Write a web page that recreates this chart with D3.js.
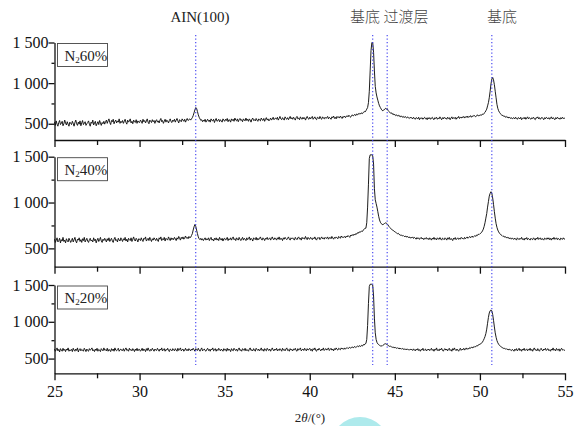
<!DOCTYPE html>
<html>
<head>
<meta charset="utf-8">
<script src="https://cdn.jsdelivr.net/npm/d3@7/dist/d3.min.js"></script>
<style>
body { margin: 0; background: #fff; }
text { font-family: "Liberation Serif", "Times New Roman", serif; }
</style>
</head>
<body>
<svg id="xrd-canvas" width="574" height="426"></svg>
<script>
// 2theta grid, 25..55 step 0.05
var twoTheta = d3.range(601).map(function(i) { return 25 + i / 20 })

var xTicks = [25, 30, 35, 40, 45, 50, 55]
var xMinorTicks = [27.5, 32.5, 37.5, 42.5, 47.5, 52.5]
var yTicks = [500, 1000, 1500]
var yMinorTicks = [750, 1250]

var panelNames = ['60%', '40%', '20%']
var peakLines = [33.3, 43.7, 44.55, 50.7]
var peakLabels = ['AIN(100)', '基底', '过渡层', '基底']
var peakLabelX = [33.55, 43.25, 45.65, 51.3]

// intensity, one row per degree (0.05 deg step)
var n2_60 = [
  520,480,535,495,470,515,540,490,505,530,475,500,545,510,485,525,495,470,520,505,
  490,530,505,470,515,545,500,480,520,495,535,475,510,540,490,505,525,480,500,515,
  535,495,470,520,505,545,485,510,530,475,500,525,490,540,510,480,515,500,530,495,
  525,545,505,535,560,515,490,540,525,555,500,530,545,510,535,520,560,505,530,515,
  540,505,530,555,515,495,545,520,535,560,510,530,500,545,525,515,550,505,535,520,
  515,545,530,505,555,525,540,510,535,560,520,500,545,530,515,550,525,540,505,535,
  550,520,535,510,545,565,525,540,505,530,555,520,545,535,510,540,560,525,515,545,
  530,555,520,545,565,535,510,550,540,525,560,545,530,555,520,545,565,540,550,560,
  545,560,575,600,635,670,700,690,650,610,580,560,540,550,525,545,530,555,520,540,
  555,530,545,520,560,540,535,555,515,545,565,530,540,555,525,550,535,520,560,545,
  530,555,540,565,525,550,545,520,560,540,555,530,570,545,535,560,525,550,565,540,
  550,525,560,545,535,570,540,555,530,560,545,520,555,570,540,550,535,565,545,530,
  560,545,535,570,550,540,565,530,555,575,545,560,535,550,570,545,560,580,550,565,
  570,555,580,545,565,590,560,550,575,560,545,585,565,555,575,550,570,590,560,575,
  555,580,565,545,575,590,560,570,550,585,565,555,580,560,575,545,570,590,565,555,
  580,560,575,590,555,570,585,560,550,580,575,560,590,565,555,585,570,560,580,565,
  575,590,560,580,570,555,585,575,595,565,580,560,590,575,585,570,595,580,565,590,
  580,595,575,590,600,585,605,590,580,600,610,595,605,615,600,620,610,625,615,630,
  620,635,625,640,650,645,660,680,700,760,900,1150,1400,1500,1500,1380,1150,960,880,830,
  790,750,720,700,680,665,660,670,675,690,680,688,665,650,640,632,635,618,625,608,
  615,600,610,595,605,590,600,585,595,580,590,575,590,580,570,585,575,565,580,570,
  575,560,580,565,555,575,570,560,580,550,570,565,575,555,570,580,560,570,550,575,
  560,575,555,570,580,560,550,575,565,580,555,570,560,585,565,550,575,560,580,565,
  570,555,580,565,575,550,570,585,560,575,565,580,555,575,570,590,565,580,570,585,
  575,590,570,585,580,595,575,590,585,600,580,595,590,605,595,585,600,610,595,605,
  600,610,605,620,615,630,640,660,680,720,760,820,900,990,1050,1070,1040,980,900,820,
  740,690,660,640,625,615,600,605,590,595,580,590,575,585,570,580,565,575,560,570,
  575,560,580,565,555,575,570,560,580,550,565,575,560,580,555,570,585,560,575,565,
  555,575,565,580,560,550,575,570,585,560,575,555,570,580,565,550,575,560,580,570,
  560,575,555,570,585,560,575,565,550,575,560,580,565,570,555,575,560,580,565,570,
  565]

var n2_40 = [
  600,565,590,615,570,585,610,560,595,580,620,575,590,560,605,585,570,610,590,565,
  585,610,570,595,620,580,560,600,590,615,575,595,565,605,585,620,570,590,610,580,
  565,595,610,580,590,570,615,585,600,560,590,610,575,595,620,580,565,600,585,610,
  590,570,605,585,615,575,595,610,580,565,600,620,585,595,570,610,590,580,615,595,
  575,605,590,620,580,600,570,610,595,585,615,575,600,625,590,580,610,595,570,605,
  600,585,615,590,575,610,600,625,580,595,610,585,620,595,575,605,590,615,600,585,
  610,590,575,615,600,625,585,605,595,620,580,610,600,590,625,605,585,615,595,610,
  595,620,605,585,615,600,630,610,590,620,605,625,600,615,635,610,620,605,630,615,
  620,640,660,700,735,760,740,700,660,625,605,595,610,590,605,585,600,615,590,605,
  595,615,585,605,620,590,600,580,610,595,615,590,605,585,620,600,590,610,580,605,
  610,590,600,620,585,605,595,615,590,610,625,595,605,585,615,600,590,620,600,585,
  605,620,590,610,600,585,615,595,605,625,590,610,600,580,615,605,595,620,590,610,
  595,610,625,600,590,615,605,585,610,600,620,595,605,615,590,610,625,600,595,615,
  605,590,615,600,625,595,610,605,585,615,600,620,605,595,610,625,600,590,615,605,
  615,600,590,620,605,595,615,625,600,610,590,620,605,615,600,630,610,595,620,605,
  600,620,610,595,615,605,625,600,590,615,610,620,595,610,625,605,615,600,620,610,
  610,625,600,615,620,605,630,615,600,620,610,625,615,605,630,620,610,635,620,625,
  620,630,615,635,625,640,630,620,645,635,650,640,655,645,660,655,670,665,680,675,
  680,690,685,700,710,720,720,780,950,1200,1480,1520,1520,1520,1510,1420,1150,1030,990,950,
  900,850,810,785,770,762,758,765,772,778,775,768,755,740,728,720,710,700,695,690,
  680,675,668,660,665,652,648,642,645,635,640,630,628,635,622,630,618,625,612,620,
  615,625,608,620,612,600,618,605,615,598,610,620,602,612,595,610,605,618,600,610,
  595,615,605,590,612,600,620,598,608,592,615,605,598,618,600,590,612,605,595,615,
  605,590,615,600,620,595,608,600,585,612,600,618,595,605,615,598,610,600,620,608,
  610,600,620,605,615,625,610,620,630,615,625,635,620,630,640,630,645,640,655,650,
  660,665,675,690,710,740,780,830,880,950,1010,1070,1100,1118,1100,1050,980,900,830,770,
  730,700,680,665,655,645,640,630,635,622,628,615,622,610,618,605,615,600,612,605,
  598,612,600,590,615,605,595,610,600,620,598,605,590,612,600,618,595,608,600,590,
  610,600,595,615,605,590,612,600,620,598,605,615,595,608,600,590,612,605,598,615,
  600,615,595,608,590,612,600,620,598,605,615,595,610,600,590,612,605,598,615,600,
  605]

var n2_20 = [
  630,600,620,645,605,625,590,635,615,600,640,610,625,595,630,615,645,600,620,610,
  625,595,640,615,600,630,610,645,590,620,635,605,625,615,600,640,620,595,630,610,
  600,635,615,625,645,605,620,595,630,610,640,600,625,615,595,635,620,605,645,615,
  620,605,640,600,625,615,595,635,610,630,600,645,615,605,625,640,600,620,630,610,
  610,635,600,625,645,610,620,600,640,615,625,605,635,620,595,630,610,640,605,625,
  625,600,615,640,605,630,620,595,635,610,645,615,600,625,610,640,620,600,630,615,
  610,640,620,600,630,615,645,605,620,635,600,625,615,640,610,595,630,620,605,635,
  620,605,635,615,600,640,610,625,645,605,620,630,600,615,640,610,625,605,635,620,
  605,630,615,640,620,600,635,625,610,640,615,600,625,645,605,620,630,610,600,625,
  640,610,625,600,630,620,645,605,615,635,600,625,610,640,620,605,630,615,600,635,
  615,625,600,640,610,630,620,595,635,615,605,640,620,610,630,600,625,645,610,620,
  600,635,620,610,640,605,625,615,600,630,645,610,620,605,635,615,600,640,625,610,
  630,605,620,645,610,625,600,635,615,605,640,620,610,630,600,625,645,615,605,630,
  615,640,605,625,610,635,620,600,640,615,625,605,630,645,610,620,600,635,615,625,
  605,630,620,640,610,600,635,615,625,645,605,620,630,610,640,620,605,635,615,625,
  640,610,625,600,635,620,645,610,600,630,615,640,620,605,630,615,645,610,625,635,
  615,630,645,610,625,640,615,630,605,635,620,645,625,615,640,630,620,645,630,640,
  625,645,630,640,650,635,645,655,640,650,660,645,655,665,650,660,670,660,675,670,
  665,680,670,690,685,700,705,760,950,1250,1480,1510,1510,1510,1500,1350,1050,850,760,720,
  700,690,680,672,675,668,680,690,698,702,695,690,680,672,665,668,660,655,650,658,
  645,650,640,648,635,645,630,640,628,638,625,635,620,632,618,630,622,615,628,620,
  625,610,632,618,605,628,615,635,610,622,600,625,615,640,608,620,630,605,622,615,
  630,608,620,640,612,625,600,628,615,645,610,622,605,632,618,640,612,600,625,635,
  615,630,605,625,640,610,622,600,635,615,645,620,608,630,615,600,625,640,612,628,
  620,640,615,630,645,625,640,630,650,640,655,645,660,650,665,660,675,670,685,690,
  695,700,712,725,745,770,800,840,900,980,1060,1120,1150,1160,1150,1100,1020,930,850,790,
  745,715,695,680,668,660,650,645,638,640,628,635,622,630,615,628,618,608,625,615,
  600,628,612,635,605,620,640,610,625,600,630,615,640,608,620,632,605,625,615,640,
  610,625,600,630,645,615,622,605,635,612,600,628,640,615,605,630,618,640,610,625,
  635,608,620,600,630,615,645,612,625,605,638,620,610,632,600,625,640,615,622,610,
  620]

var seriesList = [n2_60, n2_40, n2_20]

// panel frames (pixels)
var plotLeft = 54.5
var plotRight = 565
var panelTop = [42.5, 156.7, 285]
var panelBottom = [140, 266.7, 373.3]
var serif = '"Liberation Serif", "Times New Roman", serif'

var svg = d3.select('#xrd-canvas')
var xScale = d3.scaleLinear().domain([25, 55]).range([plotLeft, plotRight])

function fmtThousand(d) {
    return d3.format(',')(d).replace(',', ' ')
}

function renderPanel(k) {
    var yScale = d3.scaleLinear()
        .domain([300, 1500])
        .range([panelBottom[k], panelTop[k]])
    var g = svg.append('g').attr('class', 'panel-' + k)

    // x axis
    var xAxis = g.append('g')
        .attr('transform', 'translate(0,' + panelBottom[k] + ')')
        .call(d3.axisBottom(xScale).tickValues(xTicks).tickSize(7).tickSizeOuter(0)
            .tickFormat(k == 2 ? d3.format('d') : ''))
    xAxis.attr('font-family', serif).attr('font-size', 16)
    xAxis.selectAll('text').attr('y', 12).attr('fill', '#111')
    g.append('g')
        .attr('transform', 'translate(0,' + panelBottom[k] + ')')
        .call(d3.axisBottom(xScale).tickValues(xMinorTicks).tickSize(5).tickFormat(''))
        .select('.domain').remove()

    // y axis
    var yAxis = g.append('g')
        .attr('transform', 'translate(' + plotLeft + ',0)')
        .call(d3.axisLeft(yScale).tickValues(yTicks).tickSize(6).tickSizeOuter(0)
            .tickFormat(fmtThousand))
    yAxis.attr('font-family', serif).attr('font-size', 16)
    yAxis.selectAll('text').attr('x', -6).attr('fill', '#111')
    g.append('g')
        .attr('transform', 'translate(' + plotLeft + ',0)')
        .call(d3.axisLeft(yScale).tickValues(yMinorTicks).tickSize(3).tickFormat(''))
        .select('.domain').remove()

    g.selectAll('.domain, .tick line')
        .attr('stroke', '#111')
        .attr('stroke-width', 1.3)

    // the pattern
    var line = d3.line()
        .x(function(d, i) { return xScale(twoTheta[i]) })
        .y(function(d) { return yScale(d) })
    g.append('path')
        .datum(seriesList[k])
        .attr('fill', 'none')
        .attr('stroke', '#111')
        .attr('stroke-width', 0.95)
        .attr('stroke-linejoin', 'round')
        .attr('d', line)

    // legend box
    var bx = plotLeft + 3
    var by = panelTop[k] + 1
    g.append('rect')
        .attr('x', bx).attr('y', by)
        .attr('width', 50).attr('height', 23)
        .attr('fill', '#fff')
        .attr('stroke', '#444')
        .attr('stroke-width', 0.9)
    var t = g.append('text')
        .attr('x', bx + 7).attr('y', by + 17)
        .style('font-size', '15px')
        .attr('fill', '#222')
    t.append('tspan').text('N')
    t.append('tspan').attr('dy', 2).style('font-size', '9px').text('2')
    t.append('tspan').attr('dy', -2).text(panelNames[k])
}

function renderPeakMarks() {
    svg.selectAll('.peak-line')
        .data(peakLines)
        .enter()
        .append('line')
        .attr('class', 'peak-line')
        .attr('x1', function(d) { return xScale(d) })
        .attr('x2', function(d) { return xScale(d) })
        .attr('y1', 35)
        .attr('y2', 365)
        .attr('stroke', '#3c3cf0')
        .attr('stroke-width', 1.1)
        .attr('stroke-dasharray', '1.2,2.3')

    svg.selectAll('.peak-label')
        .data(peakLabels)
        .enter()
        .append('text')
        .attr('class', 'peak-label')
        .attr('x', function(d, i) { return xScale(peakLabelX[i]) })
        .attr('y', 22)
        .attr('text-anchor', 'middle')
        .attr('fill', function(d, i) { return i == 0 ? '#222' : '#444' })
        .style('font-size', '15px')
        .style('font-family', function(d, i) {
            return i == 0 ? serif : '"Noto Sans CJK SC", sans-serif'
        })
        .style('font-weight', function(d, i) { return i == 0 ? 400 : 300 })
        .text(function(d) { return d })
}

// watermark blob at the bottom edge
svg.append('circle')
    .attr('cx', 360).attr('cy', 446).attr('r', 29)
    .attr('fill', '#aeeaec')

for (var k = 0; k < 3; k++) {
    renderPanel(k)
}
renderPeakMarks()

var xt = svg.append('text')
    .attr('x', 310).attr('y', 422)
    .attr('text-anchor', 'middle')
    .style('font-size', '13px')
    .attr('fill', '#222')
xt.append('tspan').text('2')
xt.append('tspan').style('font-style', 'italic').text('θ')
xt.append('tspan').text('/(°)')
</script>
</body>
</html>
